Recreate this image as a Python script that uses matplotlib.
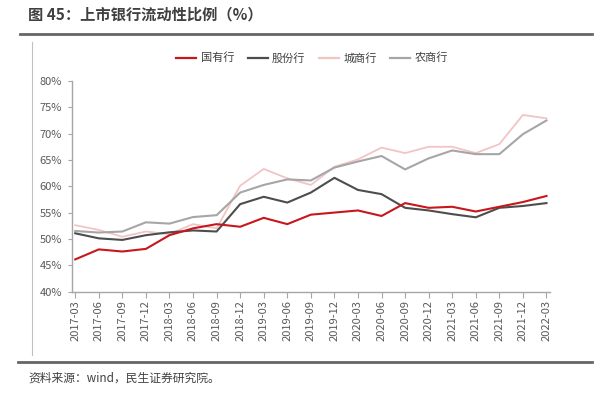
import matplotlib
matplotlib.use("Agg")
import matplotlib.pyplot as plt
from matplotlib.lines import Line2D

plt.rcParams['font.family'] = ['Noto Sans CJK SC', 'DejaVu Sans']

quarters = ["2017-03", "2017-06", "2017-09", "2017-12", "2018-03", "2018-06", "2018-09",
            "2018-12", "2019-03", "2019-06", "2019-09", "2019-12", "2020-03", "2020-06",
            "2020-09", "2020-12", "2021-03", "2021-06", "2021-09", "2021-12", "2022-03"]
state_owned = [46.1, 48.0, 47.6, 48.1, 50.7, 52.0, 52.8, 52.3, 54.0, 52.8, 54.6, 55.0,
               55.4, 54.35, 56.8, 55.9, 56.1, 55.2, 56.1, 57.0, 58.15]
joint_stock = [51.06, 50.1, 49.8, 50.7, 51.25, 51.6, 51.4, 56.6, 58.0, 56.9, 58.8, 61.6,
               59.3, 58.5, 55.9, 55.4, 54.7, 54.1, 55.9, 56.25, 56.8]
city = [52.6, 51.7, 50.4, 51.4, 50.9, 52.8, 52.0, 60.1, 63.3, 61.5, 60.25, 63.7,
        65.1, 67.35, 66.3, 67.5, 67.5, 66.3, 68.0, 73.55, 72.9]
rural = [51.5, 51.2, 51.4, 53.15, 52.9, 54.15, 54.5, 58.8, 60.25, 61.3, 61.1, 63.55,
         64.7, 65.75, 63.2, 65.3, 66.8, 66.1, 66.1, 69.9, 72.5]
series_names = ["国有行", "股份行", "城商行", "农商行"]
y_ticks = [40, 45, 50, 55, 60, 65, 70, 75, 80]

colors = ["#C8161D", "#4D4D4D", "#F2C4C4", "#A6A6A6"]
widths = [1.5, 1.5, 1.3, 1.5]

fig = plt.figure(figsize=(6.1, 4.0), dpi=100)
W, H = 610, 400
ax = fig.add_axes([71.7 / W, 1 - 291.5 / H, (550 - 71.7) / W, (291.5 - 81) / H])

x = list(range(len(quarters)))
data = [state_owned, joint_stock, city, rural]
order = [2, 3, 1, 0]
for i in order:
    ax.plot(x, data[i], color=colors[i], lw=widths[i], zorder=3 + (i == 0))

ax.set_xlim(-0.15, len(quarters) - 1 + 0.15)
ax.set_ylim(40, 80)
ax.set_yticks(y_ticks)
ax.set_yticklabels([f"{v}%" for v in y_ticks])
ax.set_xticks(x)
ax.set_xticklabels(quarters, rotation=90)
for s in ["top", "right"]:
    ax.spines[s].set_visible(False)
for s in ["left", "bottom"]:
    ax.spines[s].set_color("#A6A6A6")
    ax.spines[s].set_linewidth(1.0)
ax.tick_params(axis="both", colors="#A6A6A6", labelcolor="#595959", labelsize=8)
ax.tick_params(axis="x", length=4, pad=2)
ax.tick_params(axis="y", length=3, pad=4)

handles = [Line2D([], [], color=colors[i], lw=1.6) for i in range(4)]
fig.legend(handles, series_names, loc="center", bbox_to_anchor=(312 / W, 1 - 58 / H),
           ncol=4, frameon=False, fontsize=8, handlelength=1.8, columnspacing=1.2,
           handletextpad=0.4, labelcolor="#404040")

# header, frame lines
fig.add_artist(Line2D([20 / W, 592 / W], [1 - 34 / H, 1 - 34 / H], color="#666666", lw=2.0))
fig.add_artist(Line2D([18 / W, 592 / W], [1 - 362 / H, 1 - 362 / H], color="#666666", lw=2.0))
fig.add_artist(Line2D([32 / W, 32 / W], [1 - 42 / H, 1 - 355 / H], color="#BFBFBF", lw=0.8))

fig.text(28 / W, 1 - 14 / H, "图 45：上市银行流动性比例（%）", fontsize=11, fontweight="bold",
         color="#404040", va="center", ha="left")
fig.text(28 / W, 1 - 378 / H, "资料来源：wind，民生证券研究院。", fontsize=8.5,
         color="#404040", va="center", ha="left")

fig.savefig("out.png", dpi=100)
